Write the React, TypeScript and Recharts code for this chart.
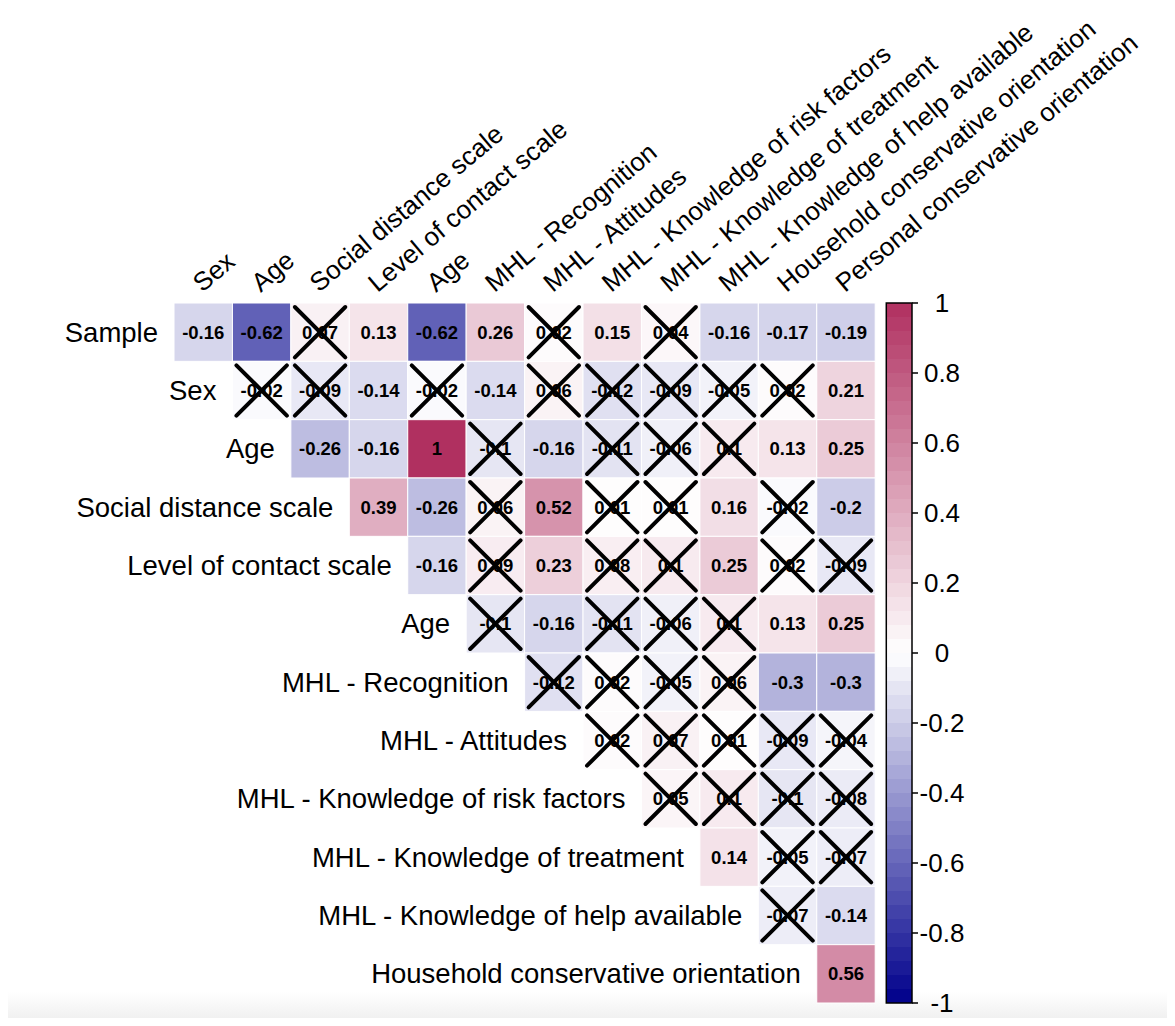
import React from "react";
import { ScatterChart, Scatter, XAxis, YAxis, ReferenceArea } from "recharts";

const rowLabels = [
  "Sample",
  "Sex",
  "Age",
  "Social distance scale",
  "Level of contact scale",
  "Age",
  "MHL - Recognition",
  "MHL - Attitudes",
  "MHL - Knowledge of risk factors",
  "MHL - Knowledge of treatment",
  "MHL - Knowledge of help available",
  "Household conservative orientation",
];

const colLabels = [
  "Sex",
  "Age",
  "Social distance scale",
  "Level of contact scale",
  "Age",
  "MHL - Recognition",
  "MHL - Attitudes",
  "MHL - Knowledge of risk factors",
  "MHL - Knowledge of treatment",
  "MHL - Knowledge of help available",
  "Household conservative orientation",
  "Personal conservative orientation",
];

// upper triangle: row r starts at column r
const corr = [
  [-0.16, -0.62, 0.07, 0.13, -0.62, 0.26, 0.02, 0.15, 0.04, -0.16, -0.17, -0.19],
  [-0.02, -0.09, -0.14, -0.02, -0.14, 0.06, -0.12, -0.09, -0.05, 0.02, 0.21],
  [-0.26, -0.16, 1, -0.1, -0.16, -0.11, -0.06, 0.1, 0.13, 0.25],
  [0.39, -0.26, 0.06, 0.52, 0.01, 0.01, 0.16, -0.02, -0.2],
  [-0.16, 0.09, 0.23, 0.08, 0.1, 0.25, 0.02, -0.09],
  [-0.1, -0.16, -0.11, -0.06, 0.1, 0.13, 0.25],
  [-0.12, 0.02, -0.05, 0.06, -0.3, -0.3],
  [0.02, 0.07, 0.01, -0.09, -0.04],
  [0.05, 0.1, -0.1, -0.08],
  [0.14, -0.05, -0.07],
  [-0.07, -0.14],
  [0.56],
];

// 1 = not significant (crossed out)
const crossed = [
  [0, 0, 1, 0, 0, 0, 1, 0, 1, 0, 0, 0],
  [1, 1, 0, 1, 0, 1, 1, 1, 1, 1, 0],
  [0, 0, 0, 1, 0, 1, 1, 1, 0, 0],
  [0, 0, 1, 0, 1, 1, 0, 1, 0],
  [0, 1, 0, 1, 1, 0, 1, 1],
  [1, 0, 1, 1, 1, 0, 0],
  [1, 1, 1, 1, 0, 0],
  [1, 1, 1, 1, 1],
  [1, 1, 1, 1],
  [0, 1, 1],
  [1, 0],
  [0],
];

const legendTicks = [1, 0.8, 0.6, 0.4, 0.2, 0, -0.2, -0.4, -0.6, -0.8, -1];

const FONT = "'Liberation Sans', Arial, Helvetica, sans-serif";
const W = 1167;
const H = 1010;
const MARGIN = { top: 295, right: 183, bottom: 15, left: 166 };
const AXIS_W = 80;
const XMAX = 12.63; // matrix 0..12 plus room for the colour bar
const BAR_X1 = 12.19;
const PLOT_W = W - MARGIN.left - MARGIN.right - AXIS_W;
const PLOT_H = H - MARGIN.top - MARGIN.bottom;
const CW = PLOT_W / XMAX;
const CH = PLOT_H / 12;
const BANDS = 50;

const LOW = [0, 0, 139]; // darkblue
const HIGH = [176, 48, 96]; // maroon

function colorFor(v: number) {
  const t = Math.min(1, Math.abs(v));
  const end = v < 0 ? LOW : HIGH;
  const c = end.map((e) => Math.round(255 + (e - 255) * t));
  return `rgb(${c[0]},${c[1]},${c[2]})`;
}

const cells = corr.flatMap((row, r) =>
  row.map((v, i) => ({ x: r + i + 0.5, y: r + 0.5, v, ns: crossed[r][i] === 1 }))
);
const rowPoints = rowLabels.map((label, r) => ({ x: r, y: r + 0.5, label }));
const colPoints = colLabels.map((label, c) => ({ x: c + 0.5, y: 0, label }));
const legendPoints = legendTicks.map((t) => ({ x: XMAX, y: t }));

const renderCell = (props: any) => {
  const { cx, cy, payload } = props;
  const x0 = cx - CW / 2;
  const y0 = cy - CH / 2;
  const p = 4;
  return (
    <g>
      <rect x={x0} y={y0} width={CW} height={CH} fill={colorFor(payload.v)} stroke="#fff" strokeWidth={1} />
      <text
        x={cx}
        y={cy + 6.5}
        textAnchor="middle"
        fontSize={18.5}
        fontWeight="bold"
        fontFamily={FONT}
        fill="#000"
      >
        {String(payload.v)}
      </text>
      {payload.ns && (
        <g stroke="#000" strokeWidth={4} strokeLinecap="round">
          <line x1={x0 + p} y1={y0 + p} x2={x0 + CW - p} y2={y0 + CH - p} />
          <line x1={x0 + p} y1={y0 + CH - p} x2={x0 + CW - p} y2={y0 + p} />
        </g>
      )}
    </g>
  );
};

const renderRowLabel = (props: any) => {
  const { cx, cy, payload } = props;
  return (
    <text x={cx - 16} y={cy + 9.5} textAnchor="end" fontSize={27.5} fontFamily={FONT} fill="#000">
      {payload.label}
    </text>
  );
};

const renderColLabel = (props: any) => {
  const { cx, cy, payload } = props;
  const x = cx - 1;
  const y = cy - 10;
  return (
    <text
      x={x}
      y={y}
      textAnchor="start"
      fontSize={26}
      fontFamily={FONT}
      fill="#000"
      transform={`rotate(-40 ${x} ${y})`}
    >
      {payload.label}
    </text>
  );
};

const renderLegendTick = (props: any) => {
  const { x, y, payload } = props;
  return (
    <text
      x={x + 22}
      y={y}
      textAnchor="middle"
      dominantBaseline="central"
      fontSize={26}
      fontFamily={FONT}
      fill="#000"
    >
      {String(payload.value)}
    </text>
  );
};

const stops = Array.from({ length: BANDS }).flatMap((_, i) => {
  const col = colorFor(1 - ((i + 0.5) * 2) / BANDS);
  return [
    <stop key={`a${i}`} offset={i / BANDS} stopColor={col} />,
    <stop key={`b${i}`} offset={(i + 1) / BANDS} stopColor={col} />,
  ];
});

export default function App() {
  return (
    <div style={{ position: "relative", width: W, height: H }}>
      <div
        style={{
          position: "absolute",
          left: -8,
          top: 984,
          width: 1175,
          height: 40,
          background: "linear-gradient(to bottom, rgba(236,236,236,0), #e9e9e9)",
        }}
      />
      <svg width={0} height={0} style={{ position: "absolute" }}>
        <defs>
          <linearGradient id="cbar" x1="0" y1="0" x2="0" y2="1">
            {stops}
          </linearGradient>
        </defs>
      </svg>
      <div style={{ position: "relative" }}>
        <ScatterChart width={W} height={H} margin={MARGIN} style={{ overflow: "visible" }}>
          <XAxis xAxisId={0} type="number" dataKey="x" domain={[0, XMAX]} hide />
          <YAxis yAxisId="m" type="number" dataKey="y" domain={[0, 12]} reversed hide />
          <YAxis
            yAxisId="cb"
            orientation="right"
            type="number"
            dataKey="y"
            domain={[-1, 1]}
            ticks={legendTicks}
            interval={0}
            width={AXIS_W}
            axisLine={false}
            tickSize={6}
            tickLine={{ stroke: "#000", strokeWidth: 1.5 }}
            tick={renderLegendTick}
          />
          <ReferenceArea
            xAxisId={0}
            yAxisId="cb"
            x1={BAR_X1}
            x2={XMAX}
            y1={-1}
            y2={1}
            fill="url(#cbar)"
            fillOpacity={1}
            stroke="#000"
            strokeWidth={1.5}
            ifOverflow="visible"
          />
          <Scatter data={legendPoints} xAxisId={0} yAxisId="cb" shape={() => <g />} isAnimationActive={false} />
          <Scatter data={cells} xAxisId={0} yAxisId="m" shape={renderCell} isAnimationActive={false} />
          <Scatter data={rowPoints} xAxisId={0} yAxisId="m" shape={renderRowLabel} isAnimationActive={false} />
          <Scatter data={colPoints} xAxisId={0} yAxisId="m" shape={renderColLabel} isAnimationActive={false} />
        </ScatterChart>
      </div>
    </div>
  );
}
